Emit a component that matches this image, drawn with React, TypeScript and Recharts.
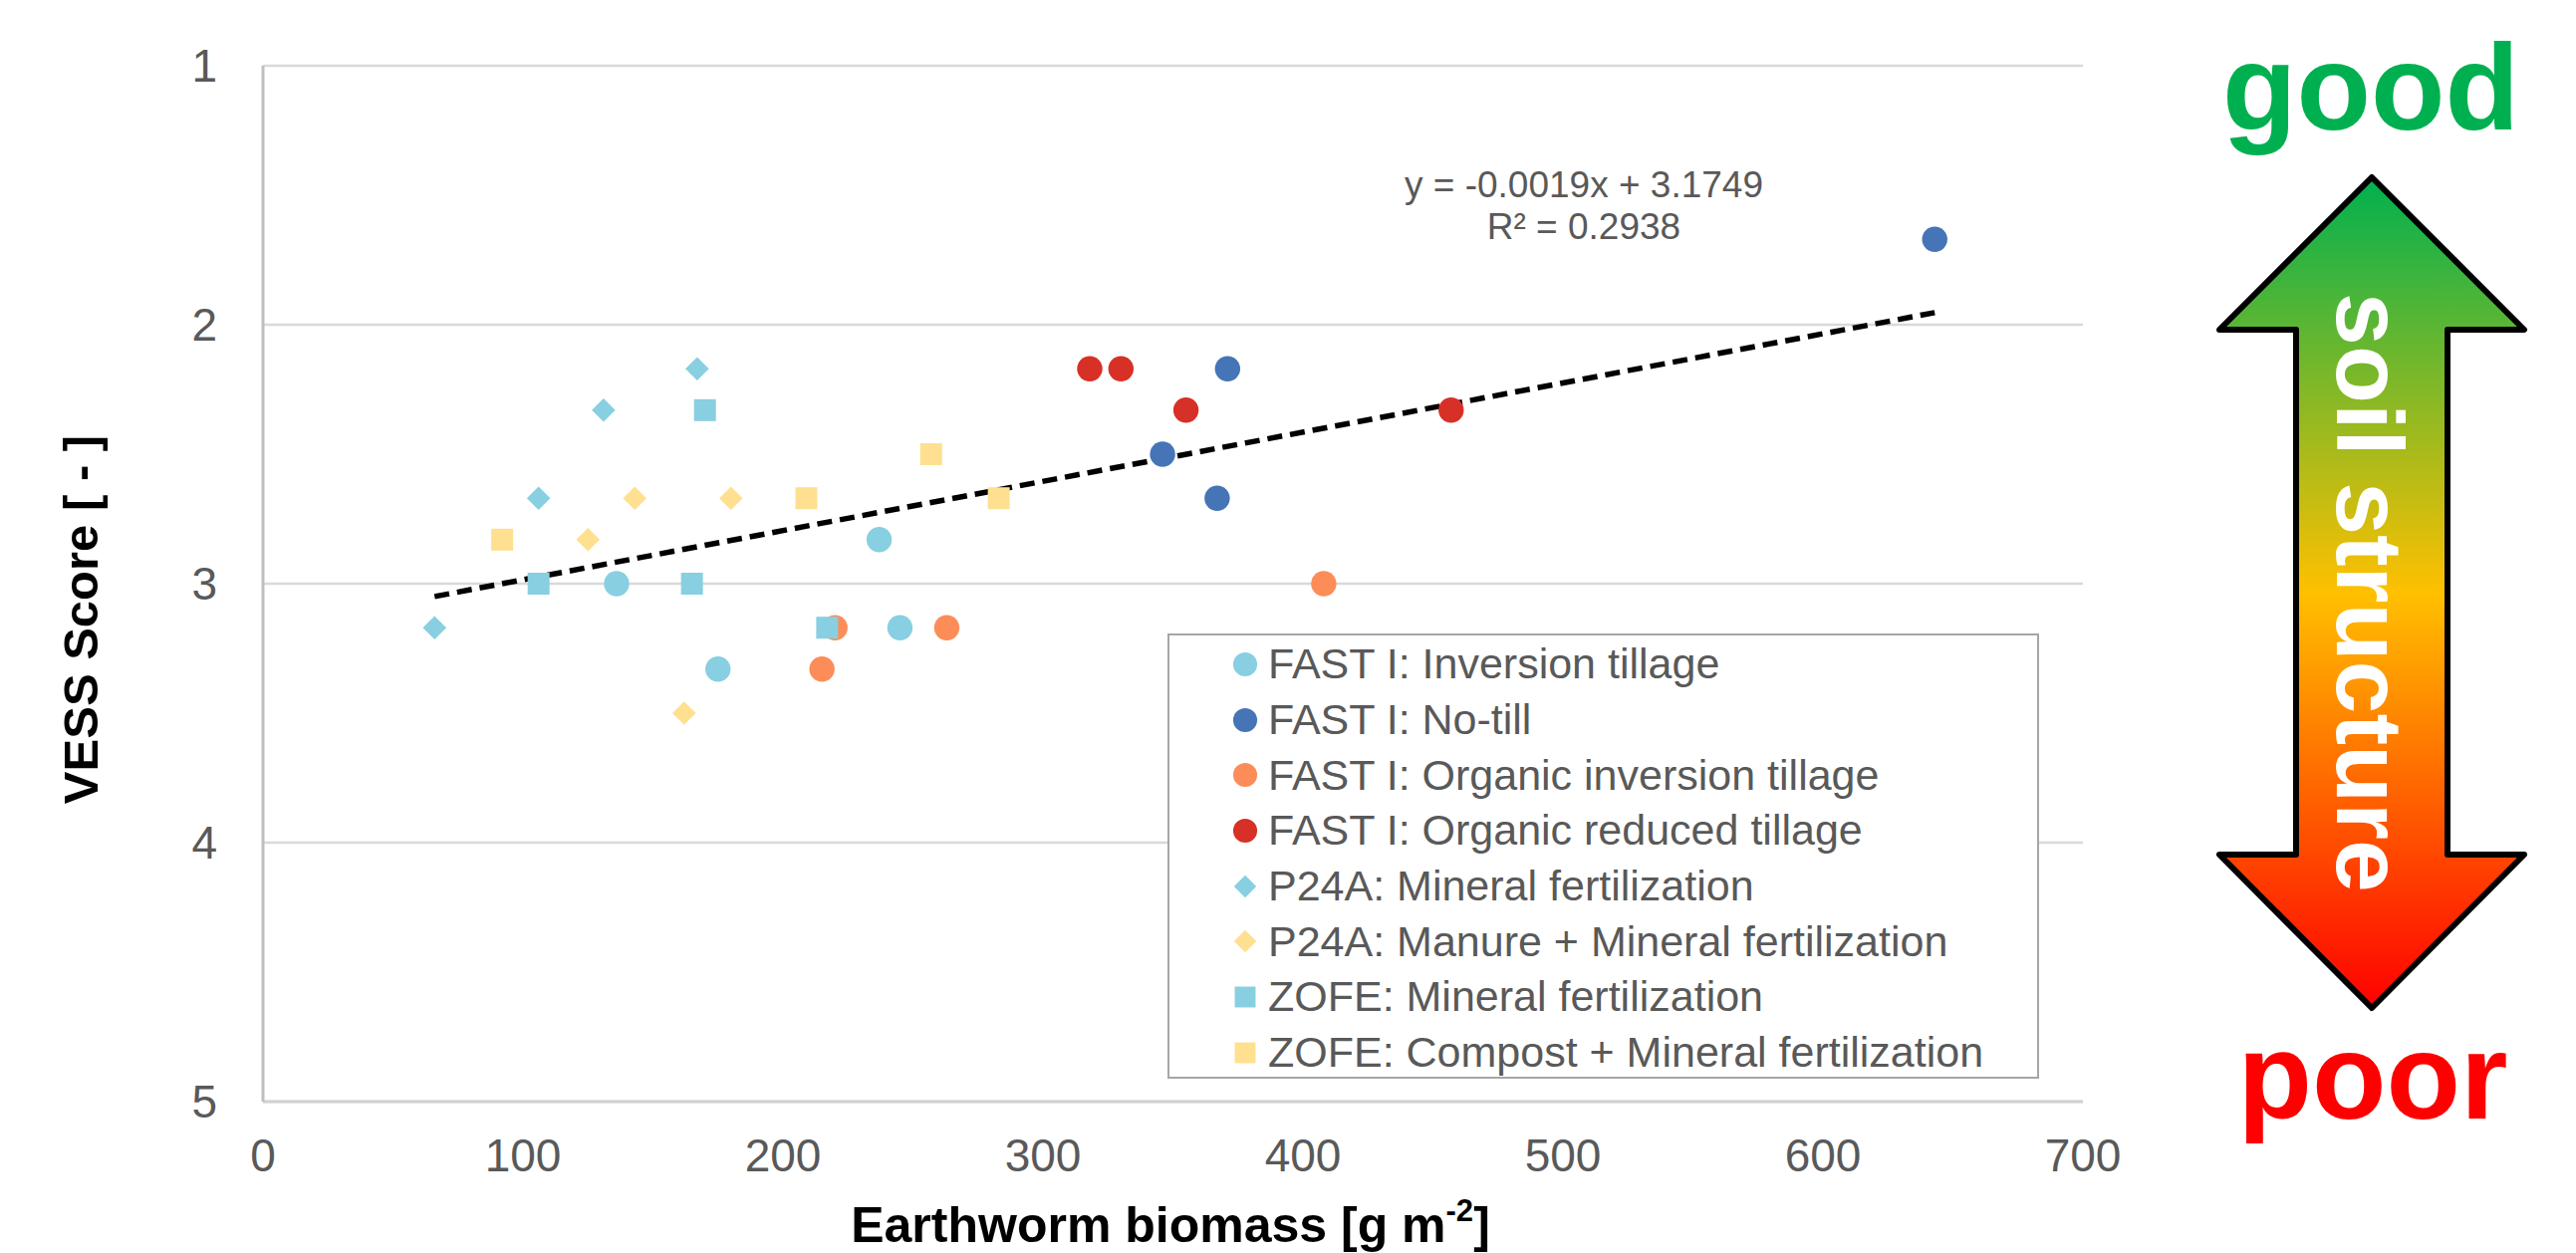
import React from 'react';
import {
  ScatterChart,
  Scatter,
  XAxis,
  YAxis,
  CartesianGrid,
  ReferenceLine,
  Legend,
} from 'recharts';

// points: [biomass g m-2, VESS score]
const fastInversion = [[136, 3.0], [175, 3.33], [237, 2.83], [245, 3.17]];
const fastNoTill = [[346, 2.5], [367, 2.67], [371, 2.17], [643, 1.67]];
const fastOrgInversion = [[215, 3.33], [220, 3.17], [263, 3.17], [408, 3.0]];
const fastOrgReduced = [[318, 2.17], [330, 2.17], [355, 2.33], [457, 2.33]];
const p24Mineral = [[66, 3.17], [106, 2.67], [131, 2.33], [167, 2.17]];
const p24Manure = [[125, 2.83], [143, 2.67], [162, 3.5], [180, 2.67]];
const zofeMineral = [[106, 3.0], [165, 3.0], [170, 2.33], [217, 3.17]];
const zofeCompost = [[92, 2.83], [209, 2.67], [257, 2.5], [283, 2.67]];

const biomassTicks = [0, 100, 200, 300, 400, 500, 600, 700];
const vessTicks = [1, 2, 3, 4, 5];

// linear trend as printed on the chart
const trendSlope = -0.0019;
const trendIntercept = 3.1749;
const trendR2 = 0.2938;

type Kind = 'circle' | 'diamond' | 'square';

const series: { name: string; points: number[][]; color: string; kind: Kind }[] = [
  { name: 'FAST I: Inversion tillage', points: fastInversion, color: '#88CFE1', kind: 'circle' },
  { name: 'FAST I: No-till', points: fastNoTill, color: '#4575B6', kind: 'circle' },
  { name: 'FAST I: Organic inversion tillage', points: fastOrgInversion, color: '#FC8D59', kind: 'circle' },
  { name: 'FAST I: Organic reduced tillage', points: fastOrgReduced, color: '#D73027', kind: 'circle' },
  { name: 'P24A: Mineral fertilization', points: p24Mineral, color: '#88CFE1', kind: 'diamond' },
  { name: 'P24A: Manure + Mineral fertilization', points: p24Manure, color: '#FEE090', kind: 'diamond' },
  { name: 'ZOFE: Mineral fertilization', points: zofeMineral, color: '#88CFE1', kind: 'square' },
  { name: 'ZOFE: Compost + Mineral fertilization', points: zofeCompost, color: '#FEE090', kind: 'square' },
];

const allX = series.flatMap((s) => s.points.map((p) => p[0]));
const trendX0 = Math.min(...allX);
const trendX1 = Math.max(...allX);

const FONT = '"Liberation Sans", Arial, sans-serif';
const GRAY_TEXT = '#595959';

function Marker({ cx, cy, color, kind, scale = 1 }: any) {
  if (cx == null || cy == null) return null;
  if (kind === 'circle') return <circle cx={cx} cy={cy} r={12.7 * scale} fill={color} />;
  if (kind === 'square') {
    const h = 11 * scale;
    return <rect x={cx - h} y={cy - h} width={2 * h} height={2 * h} fill={color} />;
  }
  const d = 11.8 * scale;
  return (
    <polygon
      points={`${cx},${cy - d} ${cx + d},${cy} ${cx},${cy + d} ${cx - d},${cy}`}
      fill={color}
    />
  );
}

const LegendBox = () => (
  <div
    style={{
      boxSizing: 'border-box',
      width: 875,
      height: 447,
      border: '2.5px solid #A6A6A6',
      background: '#fff',
      paddingTop: 1,
      fontFamily: FONT,
      fontSize: 43,
      color: GRAY_TEXT,
    }}
  >
    {series.map((s) => (
      <div key={s.name} style={{ height: 55.7, display: 'flex', alignItems: 'center' }}>
        <svg width={26} height={26} style={{ marginLeft: 63, marginRight: 10, flex: 'none' }}>
          <Marker cx={13} cy={13} color={s.color} kind={s.kind} scale={0.95} />
        </svg>
        <span style={{ whiteSpace: 'nowrap' }}>{s.name}</span>
      </div>
    ))}
  </div>
);

export default function App() {
  return (
    <div style={{ position: 'absolute', left: 0, top: 0, width: 2586, height: 1258, background: '#fff' }}>
      <ScatterChart
        width={2586}
        height={1258}
        margin={{ top: 66, right: 495, bottom: 0, left: 0 }}
        style={{ fontFamily: FONT }}
      >
        <CartesianGrid vertical={false} stroke="#D9D9D9" strokeWidth={2.5} />
        <XAxis
          type="number"
          dataKey="x"
          domain={[0, 700]}
          ticks={biomassTicks}
          height={152}
          axisLine={{ stroke: '#D0D0D0', strokeWidth: 3 }}
          tickLine={false}
          tickSize={0}
          tickMargin={37}
          tick={{ fill: GRAY_TEXT, fontSize: 46 }}
          allowDataOverflow
        />
        <YAxis
          type="number"
          dataKey="y"
          domain={[1, 5]}
          ticks={vessTicks}
          reversed
          width={264}
          axisLine={{ stroke: '#BFBFBF', strokeWidth: 3 }}
          tickLine={false}
          tickSize={0}
          tickMargin={46}
          tick={{ fill: GRAY_TEXT, fontSize: 46 }}
          allowDataOverflow
        />
        {series.map((s) => (
          <Scatter
            key={s.name}
            name={s.name}
            data={s.points.map(([x, y]) => ({ x, y }))}
            fill={s.color}
            isAnimationActive={false}
            shape={(p: any) => <Marker cx={p.cx} cy={p.cy} color={s.color} kind={s.kind} />}
          />
        ))}
        <ReferenceLine
          segment={[
            { x: trendX0, y: trendIntercept + trendSlope * trendX0 },
            { x: trendX1, y: trendIntercept + trendSlope * trendX1 },
          ]}
          stroke="#000"
          strokeWidth={5.5}
          strokeDasharray="15 8"
        />
        <Legend
          layout="horizontal"
          verticalAlign="middle"
          align="center"
          wrapperStyle={{ left: 1172, top: 636, width: 875, height: 447 }}
          content={() => <LegendBox />}
        />
      </ScatterChart>

      <svg
        width={2586}
        height={1258}
        style={{ position: 'absolute', left: 0, top: 0, pointerEvents: 'none' }}
        fontFamily={FONT}
      >
        <defs>
          <linearGradient id="soilGrad" gradientUnits="userSpaceOnUse" x1="0" y1="178" x2="0" y2="1012">
            <stop offset="0" stopColor="#00B050" />
            <stop offset="0.5" stopColor="#FFC000" />
            <stop offset="1" stopColor="#FF0000" />
          </linearGradient>
        </defs>

        <text x={1590} y={198} textAnchor="middle" fontSize={37} fill={GRAY_TEXT}>
          {`y = ${trendSlope}x + ${trendIntercept}`}
        </text>
        <text x={1590} y={240} textAnchor="middle" fontSize={37} fill={GRAY_TEXT}>
          {`R² = ${trendR2}`}
        </text>

        <text transform="translate(98,622) rotate(-90)" textAnchor="middle" fontSize={49} fontWeight="bold" fill="#000">
          VESS Score [ - ]
        </text>
        <text x={1175} y={1247} textAnchor="middle" fontSize={50} fontWeight="bold" fill="#000">
          Earthworm biomass [g m
          <tspan fontSize={31} dy={-21}>-2</tspan>
          <tspan dy={21}>]</tspan>
        </text>

        <polygon
          points="2381,178 2534,331 2457,331 2457,858 2534,858 2381,1012 2228,858 2305,858 2305,331 2228,331"
          fill="url(#soilGrad)"
          stroke="#000"
          strokeWidth={6}
          strokeLinejoin="round"
        />
        <text transform="translate(2346,595) rotate(90)" textAnchor="middle" fontSize={95} fontWeight="bold" fill="#fff">
          soil structure
        </text>
        <text x={2380} y={130} textAnchor="middle" fontSize={122} fontWeight="bold" fill="#00B050">
          good
        </text>
        <text x={2382} y={1123} textAnchor="middle" fontSize={122} fontWeight="bold" fill="#FF0000">
          poor
        </text>
      </svg>
    </div>
  );
}
